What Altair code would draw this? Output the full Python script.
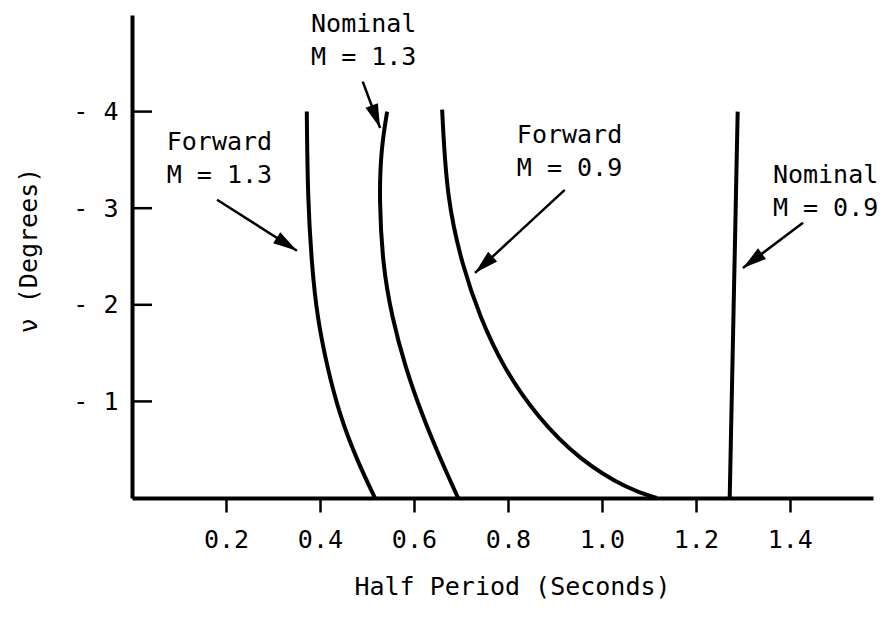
import math
import altair as alt
import pandas as pd

# ---- data ----
fwd13_x = [0.372, 0.374, 0.383, 0.394, 0.415, 0.443, 0.479, 0.517]
fwd13_y = [4.00, 3.09, 2.39, 1.88, 1.36, 0.84, 0.39, 0.00]
nom13_x = [0.543, 0.530, 0.526, 0.534, 0.553, 0.581, 0.619, 0.655, 0.694]
nom13_y = [4.00, 3.61, 3.09, 2.39, 1.88, 1.36, 0.84, 0.42, 0.00]
fwd09_x = [0.660, 0.670, 0.704, 0.740, 0.789, 0.862, 0.953, 1.060, 1.117]
fwd09_y = [4.02, 3.09, 2.39, 1.88, 1.36, 0.84, 0.39, 0.08, 0.00]
nom09_x = [1.289, 1.272]
nom09_y = [4.00, 0.00]

x_ticks = [0.2, 0.4, 0.6, 0.8, 1.0, 1.2, 1.4]
y_ticks = [1, 2, 3, 4]

labels = ["Forward\nM = 1.3", "Nominal\nM = 1.3", "Forward\nM = 0.9", "Nominal\nM = 0.9"]
label_x = [0.074, 0.381, 0.819, 1.364]
label_y = [3.606, 4.82, 3.679, 3.264]

arrow_x1 = [0.181, 0.491, 0.921, 1.428]
arrow_y1 = [3.088, 4.31, 3.19, 2.85]
arrow_x2 = [0.351, 0.528, 0.730, 1.300]
arrow_y2 = [2.56, 3.83, 2.33, 2.38]

# ---- layout ----
W, H = 741, 483
X_MAX, Y_MAX = 1.577, 5.0
PX_X, PX_Y = W / X_MAX, H / Y_MAX
FONT = "DejaVu Sans Mono"
FS = 25

rows = []
for name, xs, ys in [("fwd13", fwd13_x, fwd13_y), ("nom13", nom13_x, nom13_y),
                     ("fwd09", fwd09_x, fwd09_y), ("nom09", nom09_x, nom09_y)]:
    for i, (a, b) in enumerate(zip(xs, ys)):
        rows.append({"curve": name, "i": i, "x": a, "y": b})
curves = pd.DataFrame(rows)

arrows = pd.DataFrame({"x1": arrow_x1, "y1": arrow_y1, "x2": arrow_x2, "y2": arrow_y2})
arrows["angle"] = [
    math.degrees(math.atan2((b2 - b1) * PX_X, (d2 - d1) * PX_Y)) % 360
    for b1, d1, b2, d2 in zip(arrow_x1, arrow_y1, arrow_x2, arrow_y2)
]
texts = pd.DataFrame({"label": labels, "x": label_x, "y": label_y})
yt = pd.DataFrame({"t": y_ticks})

xs = alt.Scale(domain=[0, X_MAX], nice=False, zero=False)
ys = alt.Scale(domain=[0, Y_MAX], nice=False, zero=False)

xaxis = alt.Axis(values=x_ticks, format=".1f", grid=False, domainWidth=4, domainColor="black",
                 tickSize=14, tickWidth=2.5, tickColor="black", labelPadding=15,
                 labelFont=FONT, labelFontSize=FS, labelColor="black",
                 title="Half Period (Seconds)", titleFont=FONT, titleFontSize=FS,
                 titleFontWeight="normal", titleColor="black", titlePadding=22, titleX=380)
yaxis = alt.Axis(values=y_ticks, format="d", labelExpr="'- ' + datum.label", grid=False,
                 domainWidth=4, domainColor="black", ticks=False, tickSize=0, labelPadding=14,
                 labelFont=FONT, labelFontSize=FS, labelColor="black",
                 title="ν (Degrees)", titleFont=FONT, titleFontSize=FS,
                 titleFontWeight="normal", titleColor="black", titlePadding=31, titleY=235)

lines = alt.Chart(curves).mark_line(color="black", strokeWidth=4, interpolate="basis").encode(
    x=alt.X("x:Q", scale=xs, axis=xaxis),
    y=alt.Y("y:Q", scale=ys, axis=yaxis),
    detail="curve:N",
    order="i:Q",
)

yticks = alt.Chart(yt).mark_rule(color="black", strokeWidth=2.5).encode(
    x=alt.value(0), x2=alt.value(20), y=alt.Y("t:Q", scale=ys)
)

shafts = alt.Chart(arrows).mark_rule(color="black", strokeWidth=2.5).encode(
    x=alt.X("x1:Q", scale=xs), y=alt.Y("y1:Q", scale=ys),
    x2="x2:Q", y2="y2:Q",
)
heads = alt.Chart(arrows).mark_point(
    shape="M0,0 L0.55,2 L-0.55,2 Z", filled=True, size=576, color="black", opacity=1, strokeWidth=0
).encode(
    x=alt.X("x2:Q", scale=xs), y=alt.Y("y2:Q", scale=ys),
    angle=alt.Angle("angle:Q", scale=None),
)

ann = alt.Chart(texts).mark_text(
    align="left", baseline="alphabetic", font=FONT, fontSize=FS, lineBreak="\n",
    lineHeight=33, color="black"
).encode(x=alt.X("x:Q", scale=xs), y=alt.Y("y:Q", scale=ys), text="label:N")

chart = alt.layer(lines, yticks, shafts, heads, ann).properties(
    width=W, height=H,
    autosize=alt.AutoSizeParams(type="none"),
    padding={"left": 124, "top": 7, "right": 7, "bottom": 110},
    background="white",
).configure_view(stroke=None)

chart.save("out.html", embed_options={"renderer": "svg", "actions": False})
